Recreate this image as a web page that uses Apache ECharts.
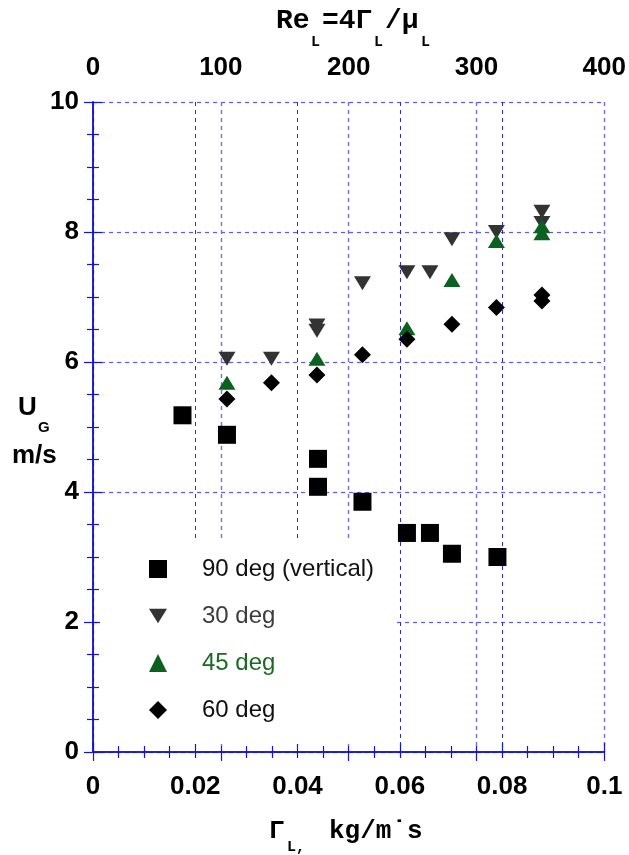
<!DOCTYPE html>
<html><head><meta charset="utf-8">
<script src="https://cdn.jsdelivr.net/npm/echarts@6/dist/echarts.min.js"></script>
<style>html,body{margin:0;padding:0;background:#fff}#c{width:629px;height:855px}</style>
</head><body><div id="c"></div>
<script>
const seriesNames = ['90 deg (vertical)', '30 deg', '45 deg', '60 deg'];
const xVert = [0.0175, 0.0262, 0.0440, 0.0440, 0.0527, 0.0614, 0.0659, 0.0702, 0.0791];
const yVert = [5.18, 4.88, 4.51, 4.08, 3.85, 3.37, 3.37, 3.05, 3.00];
const x30 = [0.0262, 0.0349, 0.0438, 0.0438, 0.0527, 0.0614, 0.0659, 0.0702, 0.0789, 0.0878, 0.0878];
const y30 = [6.05, 6.05, 6.56, 6.48, 7.21, 7.38, 7.38, 7.89, 8.00, 8.31, 8.14];
const x45 = [0.0262, 0.0438, 0.0614, 0.0702, 0.0789, 0.0878, 0.0878];
const y45 = [5.68, 6.05, 6.52, 7.26, 7.86, 7.98, 8.09];
const x60 = [0.0262, 0.0349, 0.0438, 0.0527, 0.0614, 0.0702, 0.0789, 0.0878, 0.0878];
const y60 = [5.43, 5.68, 5.80, 6.11, 6.35, 6.58, 6.84, 7.03, 6.94];
const xTicksBottom = [0, 0.02, 0.04, 0.06, 0.08, 0.1];
const xTicksTop = [0, 100, 200, 300, 400];
const yTicks = [0, 2, 4, 6, 8, 10];

const zip = (xs, ys) => xs.map((x, i) => [x, ys[i]]);
const blue = '#1414d2';
const lblFont = {color: '#000', fontFamily: 'Liberation Sans', fontWeight: 'bold', fontSize: 26};
const mono = 'Liberation Mono';
function txt(x, y, text, size, family) {
  return {type: 'text', x: x, y: y, style: {text: text, fontFamily: family || mono, fontWeight: 'bold',
    fontSize: size, fill: '#000', verticalAlign: 'middle', align: 'left'}};
}

const chart = echarts.init(document.getElementById('c'), null, {renderer: 'canvas'});
chart.setOption({
  animation: false,
  backgroundColor: '#fff',
  grid: {left: 93, right: 20, top: 102, bottom: 103},
  xAxis: [{
    type: 'value', position: 'bottom', min: 0, max: 0.1, interval: 0.02,
    axisLine: {show: true, lineStyle: {color: blue, width: 1.5}},
    axisTick: {show: true, inside: true, length: 9, lineStyle: {color: blue, width: 1.2}},
    minorTick: {show: true, splitNumber: 4, length: 6, lineStyle: {color: blue, width: 1.2}},
    splitLine: {show: true, lineStyle: {color: '#2a2ae0', type: [4, 4], width: 1}},
    axisLabel: Object.assign({margin: 22, formatter: v => xTicksBottom.includes(+v.toFixed(2)) ? String(+v.toFixed(2)) : ''}, lblFont)
  }, {
    type: 'value', position: 'top', min: 0, max: 400, interval: 100,
    axisLine: {show: true, lineStyle: {color: blue, width: 1.5}},
    axisTick: {show: true, inside: true, length: 9, lineStyle: {color: blue, width: 1.2}},
    minorTick: {show: true, splitNumber: 5, length: 6, lineStyle: {color: blue, width: 1.2}},
    splitLine: {show: true, lineStyle: {color: '#6f6ff0', type: [4, 4], width: 1.4}},
    axisLabel: Object.assign({margin: 21, formatter: v => xTicksTop.includes(v) ? String(v) : ''}, lblFont)
  }],
  yAxis: [{
    type: 'value', position: 'left', min: 0, max: 10, interval: 2,
    axisLine: {show: true, lineStyle: {color: blue, width: 1.5}},
    axisTick: {show: true, inside: true, length: 9, lineStyle: {color: blue, width: 1.2}},
    minorTick: {show: true, splitNumber: 4, length: 6, lineStyle: {color: blue, width: 1.2}},
    splitLine: {show: true, lineStyle: {color: '#5a5aee', type: [4, 4], width: 1.2}},
    axisLabel: Object.assign({margin: 14, formatter: v => yTicks.includes(v) ? String(v) : ''}, lblFont)
  }, {
    type: 'value', position: 'right', min: 0, max: 10, interval: 2,
    axisLine: {show: true, lineStyle: {color: blue, width: 1.5}},
    axisTick: {show: true, inside: true, length: 9, lineStyle: {color: blue, width: 1.2}},
    minorTick: {show: true, splitNumber: 4, length: 6, lineStyle: {color: blue, width: 1.2}},
    splitLine: {show: false},
    axisLabel: {show: false}
  }],
  legend: {
    orient: 'vertical', left: 100, top: 540,
    padding: [17, 20, 22, 49],
    backgroundColor: '#fff',
    itemWidth: 18, itemHeight: 18, itemGap: 23,
    textStyle: {fontFamily: 'Liberation Sans', fontSize: 24, padding: [0, 0, 0, 30]},
    data: [
      {name: seriesNames[0], textStyle: {color: '#111'}},
      {name: seriesNames[1], textStyle: {color: '#3c3c3c'}},
      {name: seriesNames[2], textStyle: {color: '#1a6b22'}},
      {name: seriesNames[3], textStyle: {color: '#111'}}
    ]
  },
  graphic: [
    txt(276, 21, 'Re', 28), txt(311, 42, 'L', 15), txt(322, 21, '=4Γ', 28),
    txt(374, 42, 'L', 15), txt(385, 21, '/μ', 28), txt(421, 42, 'L', 15),
    txt(269, 831, 'Γ', 26), txt(287, 847, 'L,', 15), txt(329, 831, 'kg/m˙s', 26),
    txt(18, 408, 'U', 26, 'Liberation Sans'), txt(38, 428, 'G', 15, 'Liberation Sans'),
    txt(12, 456, 'm/s', 26, 'Liberation Sans')
  ],
  series: [
    {name: seriesNames[0], type: 'scatter', symbol: 'rect', symbolSize: 18,
     itemStyle: {color: '#000', opacity: 1}, data: zip(xVert, yVert), z: 3},
    {name: seriesNames[1], type: 'scatter', symbol: 'path://M0,0 L20,0 L10,16 Z', symbolSize: [17, 14],
     itemStyle: {color: '#333333', opacity: 1}, data: zip(x30, y30), z: 3},
    {name: seriesNames[2], type: 'scatter', symbol: 'triangle', symbolSize: [17, 14],
     itemStyle: {color: '#0b6120', opacity: 1}, data: zip(x45, y45), z: 4},
    {name: seriesNames[3], type: 'scatter', symbol: 'diamond', symbolSize: 17,
     itemStyle: {color: '#000', opacity: 1}, data: zip(x60, y60), z: 5}
  ]
});
</script></body></html>
